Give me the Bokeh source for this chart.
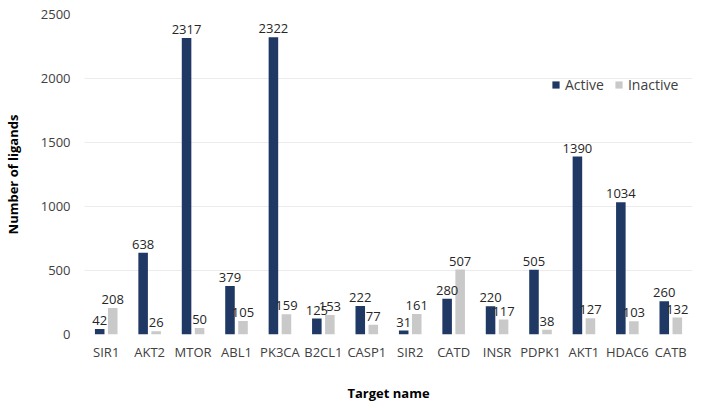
from bokeh.plotting import figure
from bokeh.models import ColumnDataSource, Range1d, Legend, LegendItem, SingleIntervalTicker
from bokeh.transform import dodge
from bokeh.core.properties import value
from bokeh.embed import file_html
from bokeh.resources import INLINE

targets = ["SIR1", "AKT2", "MTOR", "ABL1", "PK3CA", "B2CL1", "CASP1",
           "SIR2", "CATD", "INSR", "PDPK1", "AKT1", "HDAC6", "CATB"]
active = [42, 638, 2317, 379, 2322, 125, 222, 31, 280, 220, 505, 1390, 1034, 260]
inactive = [208, 26, 50, 105, 159, 153, 77, 161, 507, 117, 38, 127, 103, 132]

src = ColumnDataSource(dict(
    t=targets, a=active, i=inactive,
    at=[str(v) for v in active], it=[str(v) for v in inactive],
))

FONT = "Open Sans"
NAVY = "#1f3864"
GRAY = "#c9c9c9"

p = figure(x_range=targets, y_range=Range1d(0, 2500), width=706, height=411,
           frame_width=608, frame_height=320,
           output_backend="svg", toolbar_location=None,
           min_border_left=78, min_border_right=20, min_border_top=14, min_border_bottom=77)
p.outline_line_color = None
p.background_fill_color = "white"
p.border_fill_color = "white"

ra = p.vbar(x=dodge("t", -0.15, range=p.x_range), top="a", width=0.22, source=src,
            fill_color=NAVY, line_color=None)
ri = p.vbar(x=dodge("t", 0.15, range=p.x_range), top="i", width=0.22, source=src,
            fill_color=GRAY, line_color=None)

p.text(x=dodge("t", -0.15, range=p.x_range), y="a", text="at", source=src,
       text_align="center", text_baseline="bottom", y_offset=-4,
       text_font=value(FONT), text_font_size="13px", text_color="#262626")
p.text(x=dodge("t", 0.15, range=p.x_range), y="i", text="it", source=src,
       text_align="center", text_baseline="bottom", y_offset=-4,
       text_font=value(FONT), text_font_size="13px", text_color="#262626")

p.yaxis.ticker = SingleIntervalTicker(interval=500)
p.ygrid.grid_line_color = "#ececec"
p.xgrid.grid_line_color = None
for ax in (p.xaxis, p.yaxis):
    ax.axis_line_color = None
    ax.major_tick_line_color = None
    ax.minor_tick_line_color = None
    ax.major_tick_out = 0
    ax.major_tick_in = 0
    ax.major_label_text_font = FONT
    ax.major_label_text_font_size = "13px"
    ax.major_label_text_color = "#404040"
    ax.axis_label_text_font = FONT
    ax.axis_label_text_font_size = "13px"
    ax.axis_label_text_font_style = "bold"
    ax.axis_label_text_color = "#000000"

p.xaxis.axis_label = "Target name"
p.yaxis.axis_label = "Number of ligands"
p.xaxis.major_label_standoff = 8
p.yaxis.major_label_standoff = 10
p.xaxis.axis_label_standoff = 20
p.yaxis.axis_label_standoff = 16

legend = Legend(items=[LegendItem(label="Active", renderers=[ra]),
                       LegendItem(label="Inactive", renderers=[ri])],
                orientation="horizontal", location=(467, 240))
legend.border_line_color = None
legend.background_fill_alpha = 0
legend.glyph_width = 9
legend.glyph_height = 9
legend.label_standoff = 5
legend.spacing = 10
legend.label_text_font = FONT
legend.label_text_font_size = "14px"
legend.label_text_color = "#404040"
p.add_layout(legend, "center")

open("out.html", "w").write(file_html(p, INLINE))
